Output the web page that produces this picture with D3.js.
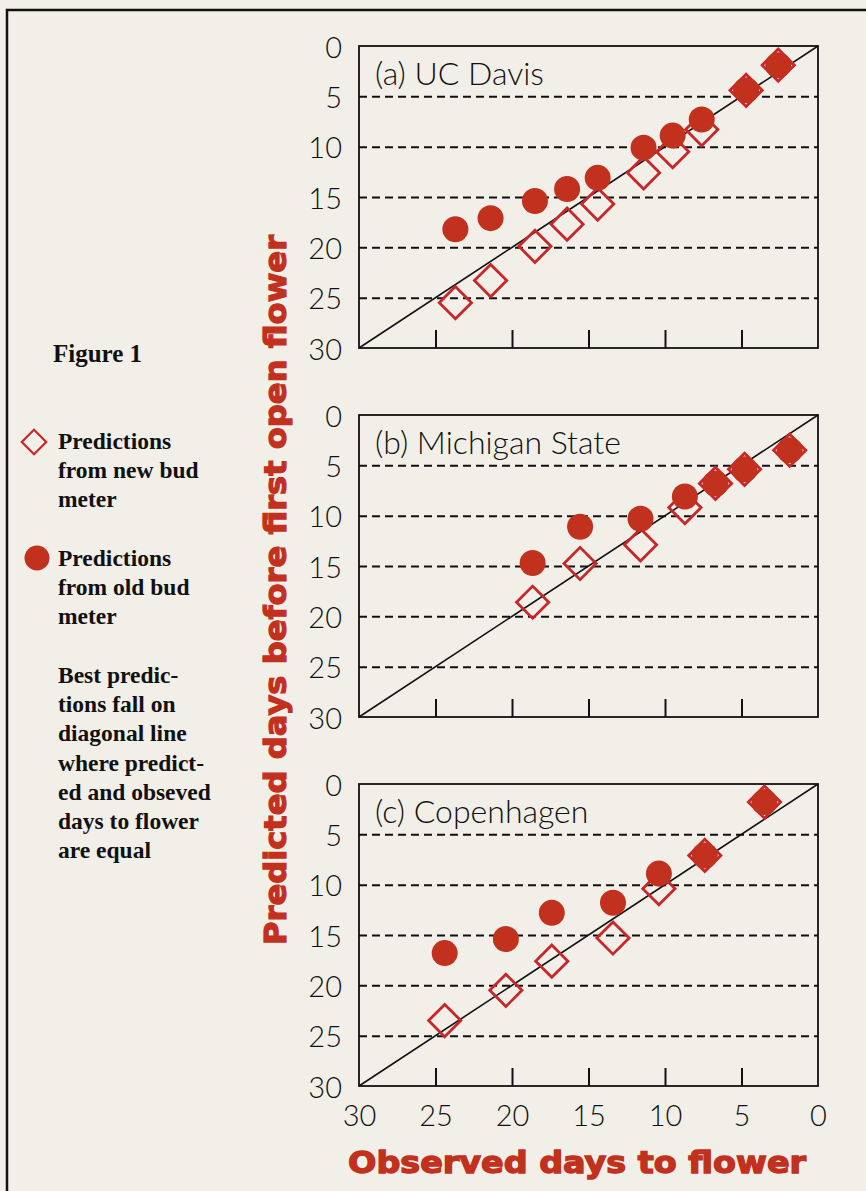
<!DOCTYPE html>
<html>
<head>
<meta charset="utf-8">
<script src="https://cdn.jsdelivr.net/npm/d3@7"></script>
<style>
  html, body { margin: 0; padding: 0; background: #f2efe9; }
  svg { display: block; }
</style>
</head>
<body>
<div id="vis"></div>
<script>
// panel names, top to bottom
const panelNames = ["(a) UC Davis", "(b) Michigan State", "(c) Copenhagen"];

// observed days to flower (shared by both meters in a panel)
const observedDavis = [23.7, 21.4, 18.5, 16.4, 14.4, 11.4, 9.5, 7.6, 4.7, 2.6];
const newMeterDavis = [25.5, 23.3, 19.9, 17.7, 15.7, 12.6, 10.5, 8.3, 4.4, 1.9];
const oldMeterDavis = [18.2, 17.1, 15.4, 14.2, 13.1, 10.1, 8.9, 7.3, 4.4, 1.9];

const observedMichigan = [18.65, 15.55, 11.6, 8.7, 6.7, 4.8, 1.85];
const newMeterMichigan = [18.6, 14.75, 12.9, 9.2, 6.8, 5.4, 3.5];
const oldMeterMichigan = [14.7, 11.1, 10.3, 8.1, 6.8, 5.4, 3.5];

const observedCopenhagen = [24.4, 20.4, 17.4, 13.4, 10.4, 7.4, 3.5];
const newMeterCopenhagen = [23.5, 20.5, 17.6, 15.3, 10.4, 7.1, 1.8];
const oldMeterCopenhagen = [16.8, 15.4, 12.8, 11.8, 8.9, 7.1, 1.8];

// axis ticks
const yTickLabels = [0, 5, 10, 15, 20, 25, 30];
const gridValues = [5, 10, 15, 20, 25];
const xTickMarks = [25, 20, 15, 10, 5];
const xTickLabels = [30, 25, 20, 15, 10, 5, 0];

// legend text
const legendNew = ["Predictions", "from new bud", "meter"];
const legendOld = ["Predictions", "from old bud", "meter"];
const noteLines = ["Best predic-", "tions fall on", "diagonal line", "where predict-",
  "ed and obseved", "days to flower", "are equal"];

const panels = [
  { name: panelNames[0], obs: observedDavis, newP: newMeterDavis, oldP: oldMeterDavis },
  { name: panelNames[1], obs: observedMichigan, newP: newMeterMichigan, oldP: oldMeterMichigan },
  { name: panelNames[2], obs: observedCopenhagen, newP: newMeterCopenhagen, oldP: oldMeterCopenhagen }
];

const width = 866;
const height = 1191;
const red = "#c2301e";
const diamondRed = "#c9262a";
const tickFont = "Lato, 'Noto Sans', sans-serif";
const heavyFont = "'DejaVu Sans', Lato, sans-serif";

// panel geometry
const plotLeft = 359;
const plotW = 459;
const plotH = 302;
const tops = [46, 415, 784];

const x = d3.scaleLinear().domain([30, 0]).range([0, plotW]);
const y = d3.scaleLinear().domain([0, 30]).range([0, plotH]);

const svg = d3.select("#vis").append("svg")
  .attr("width", width)
  .attr("height", height);

svg.append("rect")
  .attr("width", width)
  .attr("height", height)
  .attr("fill", "#f2efe9");

// outer frame (left and top only)
svg.append("path")
  .attr("d", `M7,${height} L7,10 L${width},10`)
  .attr("fill", "none")
  .attr("stroke", "#111")
  .attr("stroke-width", 2.5);

const diamond = d3.symbol().type(d3.symbolSquare).size(520);
const diamondSmall = d3.symbol().type(d3.symbolSquare).size(300);

panels.forEach((p, i) => {
  const g = svg.append("g").attr("transform", `translate(${plotLeft},${tops[i]})`);

  // dashed grid lines
  const grid = g.append("g")
    .call(d3.axisLeft(y).tickValues(gridValues).tickSize(-plotW).tickFormat(""));
  grid.select(".domain").remove();
  grid.selectAll("line")
    .attr("stroke", "#111")
    .attr("stroke-width", 2)
    .attr("stroke-dasharray", "8,5");

  // y tick labels
  const yAx = g.append("g")
    .call(d3.axisLeft(y).tickValues(yTickLabels).tickSize(0).tickPadding(17));
  yAx.select(".domain").remove();
  yAx.selectAll("text")
    .attr("font-family", tickFont)
    .attr("font-weight", 300)
    .attr("font-size", 29)
    .attr("fill", "#111")
    .attr("dy", "0.38em");

  // inner tick marks on bottom edge
  const xAx = g.append("g")
    .attr("transform", `translate(0,${plotH})`)
    .call(d3.axisBottom(x).tickValues(xTickMarks).tickSize(-18).tickFormat(""));
  xAx.select(".domain").remove();
  xAx.selectAll("line").attr("stroke", "#111").attr("stroke-width", 2);

  // diagonal 1:1 line
  g.append("line")
    .attr("x1", x(30)).attr("y1", y(30))
    .attr("x2", x(0)).attr("y2", y(0))
    .attr("stroke", "#111")
    .attr("stroke-width", 1.6);

  // panel frame
  g.append("rect")
    .attr("width", plotW)
    .attr("height", plotH)
    .attr("fill", "none")
    .attr("stroke", "#111")
    .attr("stroke-width", 1.8);

  g.append("text")
    .attr("x", 16)
    .attr("y", 39)
    .attr("font-family", tickFont)
    .attr("font-weight", 300)
    .attr("font-size", 32)
    .attr("fill", "#111")
    .text(p.name);

  // new bud meter: open diamonds
  g.selectAll(".new")
    .data(p.obs.map((o, k) => ({ o: o, v: p.newP[k] })))
    .enter()
    .append("path")
    .attr("class", "new")
    .attr("d", diamond)
    .attr("transform", d => `translate(${x(d.o)},${y(d.v)}) rotate(45)`)
    .attr("fill", "none")
    .attr("stroke", diamondRed)
    .attr("stroke-width", 2.8);

  // old bud meter: filled circles
  g.selectAll(".old")
    .data(p.obs.map((o, k) => ({ o: o, v: p.oldP[k] })))
    .enter()
    .append("circle")
    .attr("class", "old")
    .attr("cx", d => x(d.o))
    .attr("cy", d => y(d.v))
    .attr("r", 13)
    .attr("fill", red);

  // bottom labels only under last panel
  if (i === panels.length - 1) {
    const lab = g.append("g")
      .attr("transform", `translate(0,${plotH})`)
      .call(d3.axisBottom(x).tickValues(xTickLabels).tickSize(0).tickPadding(19));
    lab.select(".domain").remove();
    lab.selectAll("text")
      .attr("font-family", tickFont)
      .attr("font-weight", 300)
      .attr("font-size", 29)
      .attr("fill", "#111");
  }
});

// axis titles
svg.append("text")
  .attr("x", 577)
  .attr("y", 1173)
  .attr("text-anchor", "middle")
  .attr("font-family", heavyFont)
  .attr("font-weight", "bold")
  .attr("font-size", 31)
  .attr("fill", red)
  .attr("stroke", red)
  .attr("stroke-width", 1.4)
  .attr("textLength", 458)
  .attr("lengthAdjust", "spacingAndGlyphs")
  .text("Observed days to flower");

svg.append("text")
  .attr("transform", "translate(286,590) rotate(-90)")
  .attr("text-anchor", "middle")
  .attr("font-family", heavyFont)
  .attr("font-weight", "bold")
  .attr("font-size", 31)
  .attr("fill", red)
  .attr("stroke", red)
  .attr("stroke-width", 1.2)
  .attr("textLength", 710)
  .attr("lengthAdjust", "spacingAndGlyphs")
  .text("Predicted days before first open flower");

// legend block
const serif = "'Liberation Serif', 'Times New Roman', serif";
svg.append("text")
  .attr("x", 53).attr("y", 362)
  .attr("font-family", serif)
  .attr("font-weight", "bold")
  .attr("font-size", 25)
  .attr("fill", "#111")
  .text("Figure 1");

svg.append("path")
  .attr("d", diamondSmall)
  .attr("transform", "translate(34,442) rotate(45)")
  .attr("fill", "none")
  .attr("stroke", diamondRed)
  .attr("stroke-width", 2.2);

svg.append("circle")
  .attr("cx", 37).attr("cy", 558).attr("r", 12.5)
  .attr("fill", red);

function textBlock(lines, top) {
  svg.append("g").selectAll("text")
    .data(lines)
    .enter()
    .append("text")
    .attr("x", 58)
    .attr("y", (d, k) => top + k * 29.2)
    .attr("font-family", serif)
    .attr("font-weight", "bold")
    .attr("font-size", 23.5)
    .attr("fill", "#111")
    .text(d => d);
}
textBlock(legendNew, 449);
textBlock(legendOld, 566);
textBlock(noteLines, 683);
</script>
</body>
</html>
